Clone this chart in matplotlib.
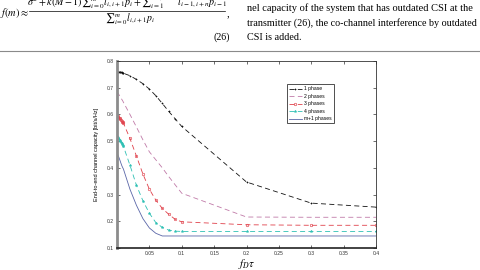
import matplotlib
matplotlib.use('Agg')
import matplotlib.pyplot as plt

plt.rcParams['mathtext.fontset'] = 'stix'
plt.rcParams['font.family'] = ['Liberation Sans', 'DejaVu Sans']

# normalized Doppler (x) and capacity of each scheme
fd = [0, 0.001, 0.002, 0.003, 0.004, 0.005, 0.006, 0.007, 0.008, 0.009, 0.01,
      0.02, 0.03, 0.04, 0.05, 0.06, 0.07, 0.08, 0.09, 0.1, 0.2, 0.3, 0.4]
one_phase = [0.760, 0.760, 0.759, 0.759, 0.758, 0.758, 0.757, 0.757, 0.756, 0.755, 0.754,
             0.745, 0.731, 0.715, 0.695, 0.670, 0.641, 0.611, 0.583, 0.555, 0.347, 0.268, 0.253]
two_phases = [0.685, 0.681, 0.678, 0.674, 0.670, 0.666, 0.662, 0.658, 0.654, 0.650, 0.645,
              0.600, 0.553, 0.505, 0.460, 0.430, 0.400, 0.367, 0.336, 0.305, 0.216, 0.215, 0.215]
three_phases = [0.595, 0.593, 0.590, 0.588, 0.585, 0.582, 0.579, 0.576, 0.573, 0.570, 0.567,
                0.510, 0.444, 0.377, 0.320, 0.279, 0.248, 0.226, 0.207, 0.198, 0.187, 0.185, 0.185]
four_phases = [0.518, 0.515, 0.512, 0.509, 0.505, 0.501, 0.497, 0.493, 0.489, 0.485, 0.480,
               0.410, 0.335, 0.277, 0.230, 0.195, 0.177, 0.167, 0.163, 0.162, 0.162, 0.162, 0.162]
m1_phases = [0.455, 0.451, 0.445, 0.439, 0.432, 0.425, 0.418, 0.411, 0.405, 0.400, 0.395,
             0.320, 0.260, 0.210, 0.175, 0.155, 0.145, 0.145, 0.145, 0.145, 0.145, 0.145, 0.145]

labels = ['1 phase', '2 phases', '3 phases', '4 phases', 'm+1 phases']
xticks = [0.05, 0.1, 0.15, 0.2, 0.25, 0.3, 0.35, 0.4]
yticks = [0.1, 0.2, 0.3, 0.4, 0.5, 0.6, 0.7, 0.8]

fig = plt.figure(figsize=(4.8, 2.7), dpi=100)

# --- page text above the figure ---
serif = 'Liberation Serif'
fig.text(0.0, 1 - 16 / 270, r'$f(m) \approx$', fontsize=7.5, ha='left', va='baseline')
fig.text(127 / 480, 1 - 6 / 270,
         r'$\sigma^2+k(M-1)∑_{i=0}^{m} l_{i,i+1}p_i+∑_{i=1}^{m+1-n} l_{i-1,i+n}p_{i-1}$',
         fontsize=7.3, ha='center', va='baseline')
fig.add_artist(plt.Line2D([29 / 480, 225 / 480], [1 - 11 / 270, 1 - 11 / 270],
                          color='black', lw=0.5))
fig.text(130 / 480, 1 - 21.5 / 270, r'$∑_{i=0}^{m} l_{i,i+1}p_i$',
         fontsize=7, ha='center', va='baseline')
fig.text(227 / 480, 1 - 16 / 270, ',', fontsize=7.5, family=serif, va='baseline')
fig.text(230 / 480, 1 - 40 / 270, '(26)', fontsize=7.2, family=serif, ha='right', va='baseline')

fig.text(247 / 480, 1 - 11 / 270, 'nel capacity of the system that has outdated CSI at the',
         fontsize=7.45, family=serif, va='baseline')
fig.text(247 / 480, 1 - 25.5 / 270, 'transmitter (26), the co-channel interference by outdated',
         fontsize=7.3, family=serif, va='baseline')
fig.text(247 / 480, 1 - 40 / 270, 'CSI is added.',
         fontsize=7.3, family=serif, va='baseline')
fig.add_artist(plt.Line2D([0, 1], [1 - 51 / 270, 1 - 51 / 270], color='#8a8a8a', lw=0.8))

# --- the chart ---
ax = fig.add_axes([117 / 480, 22 / 270, 259 / 480, 187 / 270])

ax.plot(fd, one_phase, color='#111111', ls='--', dashes=(6, 4), lw=0.6,
        marker='+', ms=1.8, mew=0.5, label=labels[0])
ax.plot(fd, two_phases, color='#c07aa8', ls='--', dashes=(6, 4), lw=0.6,
        label=labels[1])
ax.plot(fd, three_phases, color='#e0404a', ls='--', dashes=(6, 4), lw=0.6,
        marker='o', ms=1.8, mew=0.45, mfc='none', label=labels[2])
ax.plot(fd, four_phases, color='#2ec0b4', ls='--', dashes=(6, 4), lw=0.6,
        marker='*', ms=2.0, mew=0.3, label=labels[3])
ax.plot(fd, m1_phases, color='#5a66a8', ls='-', lw=0.6, label=labels[4])

ax.set_xlim(0, 0.4)
ax.set_ylim(0.1, 0.8)
ax.set_xticks(xticks)
ax.set_xticklabels([f'{t:g}' for t in xticks])
ax.set_yticks(yticks)
ax.set_yticklabels([f'{t:g}' for t in yticks])
ax.tick_params(direction='in', length=2, width=0.5, labelsize=3.6, pad=2,
               top=True, right=True, colors='#333333')

for side in ['top', 'right']:
    ax.spines[side].set_linewidth(0.6)
    ax.spines[side].set_color('#333333')
ax.spines['left'].set_linewidth(2)
ax.spines['left'].set_color('#8c8c8c')
ax.spines['bottom'].set_linewidth(1.2)
ax.spines['bottom'].set_color('#222222')

ax.set_ylabel('End-to-end channel capacity [bit/s/Hz]', fontsize=4, labelpad=6)
ax.set_xlabel(r'$f_D\tau$', fontsize=8, labelpad=1)

leg = ax.legend(loc='upper left', bbox_to_anchor=(0.655, 0.875), borderaxespad=0,
                fontsize=3.6, handlelength=2.6, labelspacing=0.5, fancybox=False,
                framealpha=1, edgecolor='#333333', borderpad=0.4, handletextpad=0.5)
leg.get_frame().set_linewidth(0.6)

fig.savefig('out.png', dpi=100)
